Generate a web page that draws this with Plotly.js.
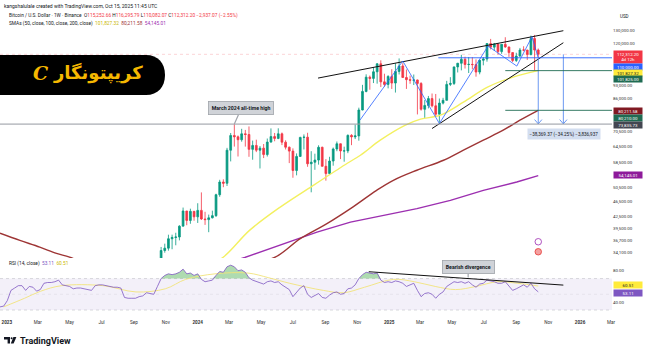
<!DOCTYPE html>
<html><head><meta charset="utf-8">
<script src="https://cdn.plot.ly/plotly-3.0.1.min.js"></script>
<style>html,body{margin:0;padding:0;background:#fff;}#chart{width:650px;height:352px;}</style>
</head><body><div id="chart"></div>
<script>
// ---------- DATA ----------
const candleStart = '2023-10-16';   // weekly candles (Monday)
const opens = [
 27150,29990,34530, 35020,37060,37360,37450, 39970,43790,41370,43700,
 42280,43950,41730,41580,42030, 42580,48300,52130,51730, 63110,68960,68390,67210,
 69650,69360,63430,64940,63120, 63900,61480,66270,68500, 67750,69650,66220,64260,
 62770,55850,60800,68160,68250, 58160,58710,59480,64220, 57300,54840,59130,63580,65600,
 62820,62850,69000,68370, 68780,80370,89850,97900, 97180,101130,106080,95180,93720,
 98330,94500,101330,104710, 97700,96460,96120,96260, 94270,80730,82600,86080,82400,
 78370,83760,85180,93750, 94280,104120,106450,109000, 105640,105730,105590,100960,108380,
 109200,119840,117270,119450, 114200,119290,117400,113500, 108250,111140,115270,115230,112160,
 123500,115252.66];
const highs = [
 30380,35280,35980, 37970,37980,38420,40200, 44700,43800,44400,43800,
 45880,48970,43580,42850,43880, 48580,52820,52980,64000, 69990,73780,68930,71770,
 71290,72800,66870,67230,64730, 65500,67700,71950,70000, 71990,70190,66990,64500,
 63800,61900,68400,69400,70080, 62740,61800,65000,64480, 59800,60660,64130,66500,65700,
 64470,69400,69500,73620, 81500,93480,99590,98870, 104000,106550,108350,99960,99070,
 102700,106420,109590,106450, 102500,98820,99480,96500, 95000,85300,87450,88750,88500,
 86100,86470,95760,97900, 104300,106660,111980,110700, 110530,110400,108950,108530,110500,
 119900,123220,120250,119800, 119300,124470,117600,113700, 113380,116700,117900,115400,125700,
 126200,116295.79];
const lows = [
 26970,29880,34080, 34500,34800,35630,36700, 39970,40200,40550,41300,
 40750,41500,40280,38550,41880, 42250,47700,50520,50900, 59000,64500,60770,66420,
 64490,60660,59600,62390,56550, 60190,60750,66060,66600, 67440,65080,63380,58400,
 53480,54260,60630,63400,57120, 49000,56100,57860,57200, 52550,54580,57500,62730,59830,
 58900,62000,65050,67470, 66830,80200,89380,90790, 94500,94150,92230,92500,91530,
 91200,89250,99500,97770, 91230,94090,93390,78260, 80050,76600,81130,81640,77150,
 74500,83100,85140,92800, 93380,100720,102000,103100, 100370,102660,98200,99600,105130,
 107460,115700,114700,112000, 112650,116800,110600,107250, 107270,110600,114400,108600,111600,
 102000,110082.07];
const closes = [
 29990,34530,35020, 37060,37360,37450,39970, 43790,41370,43700,42280,
 43950,41730,41580,42030,42580, 48300,52130,51730,63110, 68960,68390,67210,69650,
 69360,63430,64940,63120,63900, 61480,66270,68500,67750, 69650,66220,64260,62770,
 55850,60800,68160,68250,58160, 58710,59480,64220,57300, 54840,59130,63580,65600,62820,
 62850,69000,68370,68780, 80370,89850,97900,97180, 101130,106080,95180,93720,98330,
 94500,101330,104710,97700, 96460,96120,96260,94270, 80730,82600,86080,82400,78370,
 83760,85180,93750,94280, 104120,106450,109000,105640, 105730,105590,100960,108380,109200,
 119840,117270,119450,114200, 119290,117400,113500,108250, 111140,115270,115230,112160,123500,
 115250,112312.20];

// SMA lines (sparse readings)
const sma50Dates = ['2023-10-01','2024-01-01','2024-02-18','2024-04-09','2024-06-06','2024-08-12','2024-10-13','2024-11-07','2024-12-15','2025-02-01','2025-03-02','2025-04-09','2025-05-23','2025-07-08','2025-08-26','2025-10-13'];
const sma50Vals  = [27500,30500,33110,38970,44760,51400,58350,61230,67020,73360,76050,77910,84250,92220,97940,101827.32];
const sma100Dates = ['2022-12-19','2023-01-26','2023-03-05','2023-04-06','2023-05-01','2023-07-03','2023-10-02','2024-01-01','2024-03-25','2024-05-28','2024-07-15','2024-09-04','2024-10-19','2024-12-08','2025-01-09','2025-02-23','2025-04-15','2025-05-23','2025-06-30','2025-08-07','2025-09-08','2025-10-13'];
const sma100Vals  = [38300,36690,35240,33940,33170,30800,29600,30200,31600,33170,37070,40570,44410,49580,52660,55940,59410,63100,67020,71180,75600,80211.58];
const sma200Dates = ['2023-06-01','2023-12-01','2024-03-31','2024-06-13','2024-08-16','2024-10-19','2024-12-21','2025-02-23','2025-04-28','2025-06-30','2025-09-02','2025-10-13'];
const sma200Vals  = [26000,29500,33110,35970,38570,40960,42650,44410,46680,49580,52130,54145.01];

// RSI(14) weekly, starting 2022-12-19
const rsiStart = '2022-12-19';
const rsiVals = [
 34,35,
 42,55,58,61,61, 55,60,59,54, 56,64,65,65, 66,68,62,61, 60,57,58,58,57, 56,55,61,62,
 62,61,60,59,59, 58,46,45,45, 45,47,48,52, 51,50,60,70,74, 76,75,76,78, 82,76,77,74,
 76,69,66,67,68, 74,79,78,85, 87,85,80,81, 78,71,68,66,64, 63,66,67,65, 66,62,59,56,
 47,52,58,61,50, 46,49,51,46, 45,49,52,53,50, 51,57,58,62, 70,75,78,77, 76,77,68,65,66,
 65,67,66,64, 60,62,64,55, 47,51,52,50,45, 50,53,60,63, 66,65,66,64, 66,62,59,63,64,
 68,67,66,64, 64,66,60,55, 57,60,62,59,64, 57,53.11];
const rsiMaDates = ['2022-12-26','2023-02-04','2023-03-07','2023-04-16','2023-07-04','2023-09-05','2023-10-31','2023-12-09','2024-02-03','2024-04-06','2024-05-16','2024-06-25','2024-08-28','2024-10-06','2024-11-15','2025-01-09','2025-02-18','2025-03-30','2025-05-08','2025-06-16','2025-07-27','2025-09-04','2025-10-13'];
const rsiMaVals  = [34,45,54,61,61,53,57,69,76,77,71,64,55,52,59,69,66,60,56,60,66,64,60.51];

// price axis ticks
const priceTicks = [130000,120000,93000,86000,70500,64500,58500,50500,46500,42500,39500,36700,34100];
const xTickDates = ['2023-01-01','2023-03-01','2023-05-01','2023-07-01','2023-09-01','2023-11-01','2024-01-01','2024-03-01','2024-05-01','2024-07-01','2024-09-01','2024-11-01','2025-01-01','2025-03-01','2025-05-01','2025-07-01','2025-09-01','2025-11-01','2026-01-01','2026-03-01'];
const xTickText  = ['<b>2023</b>','Mar','May','Jul','Sep','Nov','<b>2024</b>','Mar','May','Jul','Sep','Nov','<b>2025</b>','Mar','May','Jul','Sep','Nov','<b>2026</b>','Mar'];

// drawings
const athLevel = 73835.73;
const upperWedgeX = ['2024-08-18','2025-11-30'], upperWedgeY = [97360,129450];
const lowerWedgeX = ['2025-03-24','2025-11-30'], lowerWedgeY = [71900,120420];
const zigX = ['2024-11-06','2025-01-27','2025-04-07','2025-07-09','2025-09-02','2025-10-01','2025-10-13'];
const zigY = [75600,107860,74100,118050,104650,124860,110000];
const divX = ['2024-11-23','2025-11-30'], divY = [78.7,61.7];
const measureTop = 112312.20, measureBottom = 73942.83, blueLevel = 110000;
const greenLevels = [101825, 80210];

// ---------- BUILD ----------
function weekly(start, n){const t0=Date.parse(start+'T00:00:00Z');const o=[];for(let i=0;i<n;i++)o.push(new Date(t0+i*604800000).toISOString().slice(0,10));return o;}
const candleDates = weekly(candleStart, opens.length);
const rsiDates = weekly(rsiStart, rsiVals.length);

const FONT = 'Roboto, "Liberation Sans", Arial, sans-serif';
const PW = 612, T = 10, B = 318;
const px = x => x/PW, py = y => (B - y)/(B - T);

const traces = [
 {type:'scatter',mode:'lines',x:sma200Dates,y:sma200Vals,line:{color:'#9c2fb0',width:1.4},xaxis:'x',yaxis:'y',hoverinfo:'skip'},
 {type:'scatter',mode:'lines',x:sma100Dates,y:sma100Vals,line:{color:'#9e3535',width:1.4,shape:'spline'},xaxis:'x',yaxis:'y',hoverinfo:'skip'},
 {type:'scatter',mode:'lines',x:sma50Dates,y:sma50Vals,line:{color:'#f3f060',width:1.4,shape:'spline'},xaxis:'x',yaxis:'y',hoverinfo:'skip'},
 {type:'candlestick',x:candleDates,open:opens,high:highs,low:lows,close:closes,xaxis:'x',yaxis:'y',
  increasing:{line:{color:'#089981',width:0.8},fillcolor:'#089981'},
  decreasing:{line:{color:'#F23645',width:0.8},fillcolor:'#F23645'},whiskerwidth:0,hoverinfo:'skip'},
 {type:'scatter',mode:'lines',x:upperWedgeX,y:upperWedgeY,line:{color:'#111',width:1},xaxis:'x',yaxis:'y'},
 {type:'scatter',mode:'lines',x:lowerWedgeX,y:lowerWedgeY,line:{color:'#111',width:1},xaxis:'x',yaxis:'y'},
 {type:'scatter',mode:'lines',x:zigX,y:zigY,line:{color:'#2962FF',width:0.8},xaxis:'x',yaxis:'y'},
 // measure verticals
 {type:'scatter',mode:'lines',x:['2025-10-13','2025-10-13'],y:[blueLevel,measureBottom],line:{color:'#5b8def',width:0.9},xaxis:'x',yaxis:'y'},
 {type:'scatter',mode:'lines',x:['2025-11-30','2025-11-30'],y:[measureTop,measureBottom],line:{color:'#5b8def',width:0.9},xaxis:'x',yaxis:'y'},
 {type:'scatter',mode:'lines',x:['2025-10-06','2025-10-13','2025-10-20'],y:[measureBottom*1.026,measureBottom,measureBottom*1.026],line:{color:'#5b8def',width:0.9},xaxis:'x',yaxis:'y'},
 {type:'scatter',mode:'lines',x:['2025-11-23','2025-11-30','2025-12-07'],y:[measureBottom*1.026,measureBottom,measureBottom*1.026],line:{color:'#5b8def',width:0.9},xaxis:'x',yaxis:'y'},
 // RSI pane
 {type:'scatter',mode:'lines',x:rsiDates,y:rsiVals.map(()=>70),line:{width:0,color:'rgba(0,0,0,0)'},xaxis:'x',yaxis:'y2',hoverinfo:'skip'},
 {type:'scatter',mode:'lines',x:rsiDates,y:rsiVals.map(v=>Math.max(v,70)),fill:'tonexty',fillcolor:'rgba(76,175,80,0.45)',line:{width:0,color:'rgba(0,0,0,0)'},xaxis:'x',yaxis:'y2',hoverinfo:'skip'},
 {type:'scatter',mode:'lines',x:rsiMaDates,y:rsiMaVals,line:{color:'#f2e37a',width:0.9,shape:'spline'},xaxis:'x',yaxis:'y2'},
 {type:'scatter',mode:'lines',x:rsiDates,y:rsiVals,line:{color:'#7E57C2',width:0.8},xaxis:'x',yaxis:'y2'},
 {type:'scatter',mode:'lines',x:divX,y:divY,line:{color:'#111',width:1},xaxis:'x',yaxis:'y2'}
];

const shapes = [
 {type:'rect',xref:'paper',yref:'y2',x0:0,x1:1,y0:30,y1:70,fillcolor:'rgba(126,87,194,0.09)',line:{width:0},layer:'below'},
 {type:'line',xref:'paper',yref:'y2',x0:0,x1:1,y0:70,y1:70,line:{color:'rgba(120,123,134,0.45)',width:0.6,dash:'dot'},layer:'below'},
 {type:'line',xref:'paper',yref:'y2',x0:0,x1:1,y0:30,y1:30,line:{color:'rgba(120,123,134,0.45)',width:0.6,dash:'dot'},layer:'below'},
 {type:'line',xref:'paper',yref:'y2',x0:0,x1:1,y0:50,y1:50,line:{color:'rgba(120,123,134,0.2)',width:0.5,dash:'dot'},layer:'below'},
 {type:'line',xref:'paper',yref:'y',x0:0,x1:1,y0:athLevel,y1:athLevel,line:{color:'#9598a1',width:1}},
 {type:'line',xref:'paper',yref:'y',x0:0,x1:1,y0:measureTop,y1:measureTop,line:{color:'rgba(242,54,69,0.35)',width:0.6,dash:'dot'},layer:'below'},
 {type:'line',xref:'x',yref:'y',x0:'2025-04-05',x1:'2026-03-03',y0:blueLevel,y1:blueLevel,line:{color:'#2962FF',width:0.9}},
 {type:'line',xref:'x',yref:'y',x0:'2025-08-11',x1:'2026-03-03',y0:greenLevels[0],y1:greenLevels[0],line:{color:'#1f6b52',width:0.9}},
 {type:'line',xref:'x',yref:'y',x0:'2025-08-11',x1:'2026-03-03',y0:greenLevels[1],y1:greenLevels[1],line:{color:'#1f6b52',width:0.9}},
 // logo pill
 {type:'path',xref:'paper',yref:'paper',path:`M 0,${py(55)} L ${px(146)},${py(55)} C ${px(158)},${py(55)} ${px(165)},${py(63)} ${px(165)},${py(75)} C ${px(165)},${py(87)} ${px(158)},${py(95)} ${px(146)},${py(95)} L 0,${py(95)} Z`,fillcolor:'#000',line:{width:0}},
 // icons near last candle
 {type:'circle',xref:'paper',yref:'paper',x0:px(535),x1:px(541.5),y0:py(245),y1:py(238.5),fillcolor:'#fff',line:{color:'#9c27b0',width:0.8}},
 {type:'circle',xref:'paper',yref:'paper',x0:px(535),x1:px(541.5),y0:py(255),y1:py(248.5),fillcolor:'#f4a0a0',line:{color:'#e53935',width:0.8}},
 // TradingView mark
 {type:'path',xref:'paper',yref:'paper',path:`M ${px(4)},${py(337)} L ${px(10)},${py(337)} L ${px(10)},${py(343.5)} L ${px(7.6)},${py(343.5)} L ${px(7.6)},${py(339.4)} L ${px(4)},${py(339.4)} Z`,fillcolor:'#131722',line:{width:0}},
 {type:'circle',xref:'paper',yref:'paper',x0:px(10.6),x1:px(12.6),y0:py(339.2),y1:py(337.2),fillcolor:'#131722',line:{width:0}},
 {type:'path',xref:'paper',yref:'paper',path:`M ${px(13.4)},${py(337)} L ${px(16.4)},${py(337)} L ${px(13.6)},${py(343.5)} L ${px(10.8)},${py(343.5)} Z`,fillcolor:'#131722',line:{width:0}}
];

function axLabel(y, text, bg, fg){
  return {xref:'paper',yref:'paper',x:px(612.8),y:py(y),xanchor:'left',yanchor:'middle',text:text,showarrow:false,
    font:{family:FONT,size:4.4,color:fg},bgcolor:bg,width:27,borderpad:0.6,align:'center'};
}
function txt(x,y,text,size,color,extra){
  return Object.assign({xref:'paper',yref:'paper',x:px(x),y:py(y),xanchor:'left',yanchor:'middle',text:text,showarrow:false,font:{family:FONT,size:size,color:color}},extra||{});
}

const red='#F23645';
const annotations = [
 txt(1.7,6,'kangshalulale created with TradingView.com, Oct 15, 2025 11:45 UTC',5,'#131722'),
 txt(7,16,`Bitcoin / U.S. Dollar · 1W · Binance  O<span style="color:${red}">115,252.66</span> H<span style="color:${red}">116,295.79</span> L<span style="color:${red}">110,082.07</span> C<span style="color:${red}">112,312.20</span> <span style="color:${red}">−2,937.07 (−2.55%)</span>`,4.8,'#131722'),
 txt(7,23.3,`SMAs (50, close, 100, close, 200, close)  <span style="color:#c9b800">101,827.32</span>  <span style="color:#9e3535">80,211.58</span>  <span style="color:#9c2fb0">54,145.01</span>`,4.8,'#131722'),
 txt(7,263.3,`RSI (14, close)  <span style="color:#7E57C2">53.11</span>  <span style="color:#c9b800">60.51</span>`,4.8,'#131722'),
 txt(618,16.7,'USD',4.5,'#131722'),
 // logo
 txt(98,73,'<b>کریپتونگار</b>',18,'#F5B800',{xanchor:'center',font:{family:'"DejaVu Sans", sans-serif',size:18,color:'#F5B800'}}),
 txt(40,73,'<b><i>C</i></b>',19,'#F5B800',{xanchor:'center',font:{family:'"DejaVu Serif", serif',size:19,color:'#F5B800'}}),
 // TradingView text
 txt(18,340.5,'<b>TradingView</b>',9,'#131722'),
 // callouts
 {xref:'x',yref:'y',x:'2024-03-11',y:Math.log10(athLevel),ax:7,ay:-16,showarrow:true,arrowhead:0,arrowwidth:1.2,arrowcolor:'#a0a4ab',
  text:'<b>March 2024 all-time high</b>',font:{family:FONT,size:5.2,color:'#131722'},bgcolor:'#d0d3d8',bordercolor:'#a0a4ab',borderwidth:0.8,borderpad:3},
 {xref:'x',yref:'y2',x:'2025-06-01',y:71.5,ax:0,ay:-10,showarrow:true,arrowhead:0,arrowwidth:1.2,arrowcolor:'#a0a4ab',
  text:'<b>Bearish divergence</b>',font:{family:FONT,size:5.2,color:'#131722'},bgcolor:'#d0d3d8',bordercolor:'#a0a4ab',borderwidth:0.8,borderpad:3},
 txt(563.9,134.2,'−38,369.37 (−34.25%) −3,836,937',4.6,'#131722',{xanchor:'center',bgcolor:'#d3def0',borderpad:1.5}),
 // axis value labels
 axLabel(57,'112,312.20<br>4d 12h',red,'#fff'),
 axLabel(66.8,'110,000.00','#2962FF','#fff'),
 axLabel(73.2,'101,827.32','#ffeb3b','#131722'),
 axLabel(79.3,'101,825.00','#1f6b52','#fff'),
 axLabel(110.5,'80,211.58','#801922','#fff'),
 axLabel(117.5,'80,210.00','#1f6b52','#fff'),
 axLabel(125,'73,835.73','#434651','#fff'),
 axLabel(175.3,'54,145.01','#8e1a9a','#fff'),
 axLabel(285,'60.51','#ffeb3b','#131722'),
 axLabel(292.5,'53.11','#7E57C2','#fff')
];

const layout = {
  width:650,height:352,margin:{l:0,r:38,t:T,b:352-B},
  paper_bgcolor:'#fff',plot_bgcolor:'#fff',showlegend:false,
  font:{family:FONT,color:'#131722'},
  xaxis:{type:'date',range:['2022-12-19','2026-03-03'],anchor:'y2',showgrid:false,zeroline:false,showline:false,
    tickvals:xTickDates,ticktext:xTickText,ticks:'',tickfont:{family:FONT,size:4.6,color:'#333'},rangeslider:{visible:false},fixedrange:true},
  yaxis:{type:'log',domain:[(B-258)/(B-T),1],range:[4.518643,5.166162],side:'right',anchor:'x',showgrid:false,zeroline:false,
    tickvals:priceTicks,ticktext:priceTicks.map(v=>v.toLocaleString('en-US',{minimumFractionDigits:2})),ticks:'',
    tickfont:{family:FONT,size:4.4,color:'#333'}},
  yaxis2:{domain:[0,(B-259)/(B-T)],range:[19.9,94.87],side:'right',anchor:'x',showgrid:false,zeroline:false,
    tickvals:[80,40],ticktext:['80.00','40.00'],ticks:'',tickfont:{family:FONT,size:4.4,color:'#333'}},
  shapes:shapes,annotations:annotations
};
Plotly.newPlot('chart',traces,layout,{staticPlot:true,displayModeBar:false});
</script></body></html>
